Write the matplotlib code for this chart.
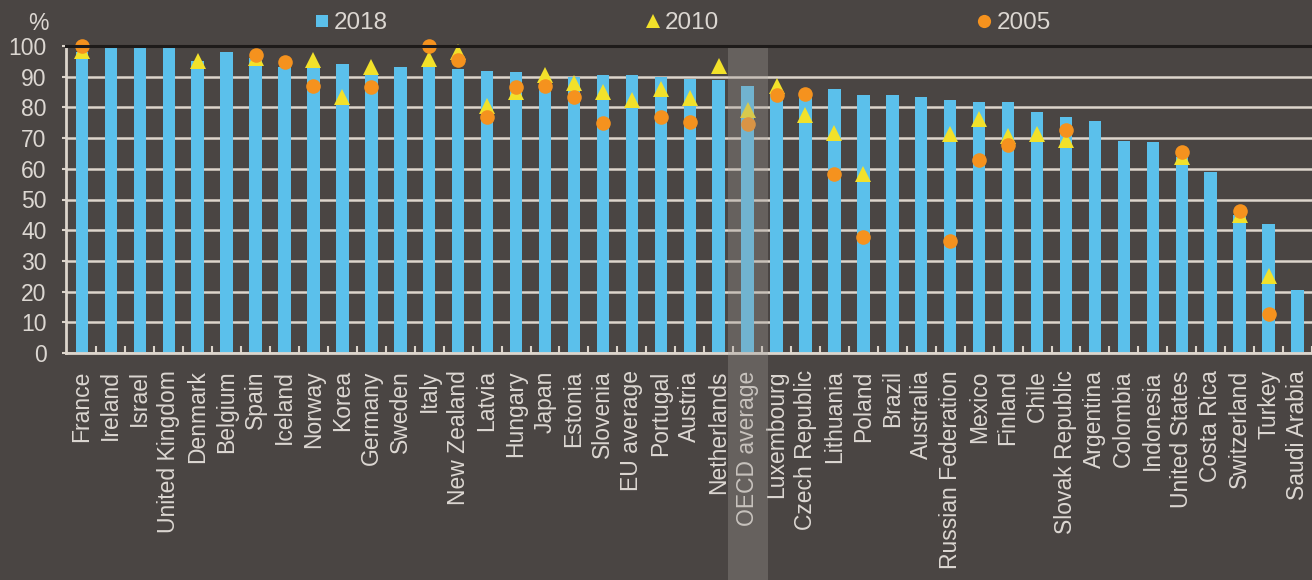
import numpy as np
import matplotlib
matplotlib.use("Agg")
import matplotlib.pyplot as plt
from matplotlib.lines import Line2D

nan = np.nan
categories = ["France", "Ireland", "Israel", "United Kingdom", "Denmark", "Belgium", "Spain",
              "Iceland", "Norway", "Korea", "Germany", "Sweden", "Italy", "New Zealand", "Latvia",
              "Hungary", "Japan", "Estonia", "Slovenia", "EU average", "Portugal", "Austria",
              "Netherlands", "OECD average", "Luxembourg", "Czech Republic", "Lithuania", "Poland",
              "Brazil", "Australia", "Russian Federation", "Mexico", "Finland", "Chile",
              "Slovak Republic", "Argentina", "Colombia", "Indonesia", "United States",
              "Costa Rica", "Switzerland", "Turkey", "Saudi Arabia"]

v2018 = [98, 99.5, 99.5, 99.5, 95, 97.9, 96, 93, 93, 94.2, 91, 93.3, 93, 92.5, 92, 91.5, 89,
         90, 90.4, 90.4, 89.8, 89.3, 88.8, 87, 85, 84, 86, 84.1, 83.9, 83.3, 82.5, 81.7, 81.7,
         78.5, 77, 75.7, 69.2, 68.7, 64, 58.9, 45, 42.1, 20.4]

v2010 = [98.5, nan, nan, nan, 95, nan, 96, nan, 95.3, 83.3, 93, nan, 95.8, 98, 80.6, 85, 90.4,
         88, 85, 82.5, 86, 83, 93.6, 79, 87, 77.4, 71.7, 58.4, nan, nan, 71.4, 76.3, 70.8, 71.4,
         69.5, nan, nan, nan, 63.8, nan, 45, 25.2, nan]

v2005 = [100, nan, nan, nan, nan, nan, 97, 94.7, 87, nan, 86.8, nan, 100, 95.3, 76.8, 86.6, 87,
         83.3, 74.9, nan, 77, 75.2, nan, 74.5, 83.9, 84.4, 58.4, 37.7, nan, nan, 36.6, 62.9,
         67.6, nan, 72.7, nan, nan, nan, 65.5, nan, 46.4, 12.8, nan]

legend_labels = ["2018", "2010", "2005"]
highlight = "OECD average"

BG = "#4a4543"
TXT = "#dcd7d2"
BAR = "#5bc0eb"
TRI = "#f2e12a"
CIR = "#f5921e"
GRID = "#ddd5cc"

plt.rcParams['font.family'] = ['Liberation Sans', 'DejaVu Sans']

fig = plt.figure(figsize=(13.12, 5.8), dpi=100, facecolor=BG)
ax = fig.add_axes([66 / 1312, 1 - 353 / 580, 1 - 66 / 1312, 307 / 580])
ax.set_facecolor(BG)

x = np.arange(len(categories))
ax.bar(x, v2018, width=0.43, color=BAR, zorder=2)
ax.plot(x, v2010, linestyle='none', marker='^', markersize=11, color=TRI,
        markeredgewidth=0, zorder=3, clip_on=False)
ax.plot(x, v2005, linestyle='none', marker='o', markersize=10.5, color=CIR,
        markeredgewidth=0, zorder=4, clip_on=False)

hi = categories.index(highlight)
ax.axvspan(hi - 0.69, hi + 0.69, ymin=-0.75, ymax=0.995, color="#a09b96", alpha=0.33,
           lw=0, zorder=5, clip_on=False)

ax.set_xlim(-0.55, 42.31)
ax.set_ylim(0, 100)
ax.set_yticks(np.arange(0, 101, 10))
ax.yaxis.grid(True, color=GRID, linewidth=1.8, zorder=0)
ax.set_axisbelow(True)

ax.set_xticks(x)
ax.set_xticklabels(categories, rotation=90, ha='center', va='top', fontsize=16.5, color=TXT)
ax.set_xticks(np.arange(len(categories)) + 0.5, minor=True)
ax.tick_params(axis='x', which='major', length=0, pad=12.5)
ax.tick_params(axis='x', which='minor', direction='in', length=5, width=1.5, color=GRID)
ax.tick_params(axis='y', which='major', direction='out', length=3, width=1.5, color=GRID,
               labelsize=16.5, labelcolor=TXT, pad=11)

for s in ['left', 'bottom']:
    ax.spines[s].set_color(GRID)
    ax.spines[s].set_linewidth(2)
ax.spines['right'].set_visible(False)
ax.spines['top'].set_color("#1e1b1a")
ax.spines['top'].set_linewidth(2.2)
ax.spines['top'].set_zorder(6)

fig.text(38 / 1312, 1 - 24 / 580, "%", ha='center', va='center', fontsize=16.5, color=TXT)

handles = [
    Line2D([], [], linestyle='none', marker='s', markersize=9, color=BAR, markeredgewidth=0),
    Line2D([], [], linestyle='none', marker='^', markersize=10, color=TRI, markeredgewidth=0),
    Line2D([], [], linestyle='none', marker='o', markersize=9.5, color=CIR, markeredgewidth=0),
]
leg = fig.legend(handles, legend_labels, ncol=3, loc='center',
                 bbox_to_anchor=(682.5 / 1312, 1 - 23 / 580), frameon=False,
                 fontsize=17.5, labelcolor=TXT, handlelength=0.6, handletextpad=0.2,
                 columnspacing=10.6, borderpad=0)

fig.savefig("out.png", dpi=100, facecolor=BG)
